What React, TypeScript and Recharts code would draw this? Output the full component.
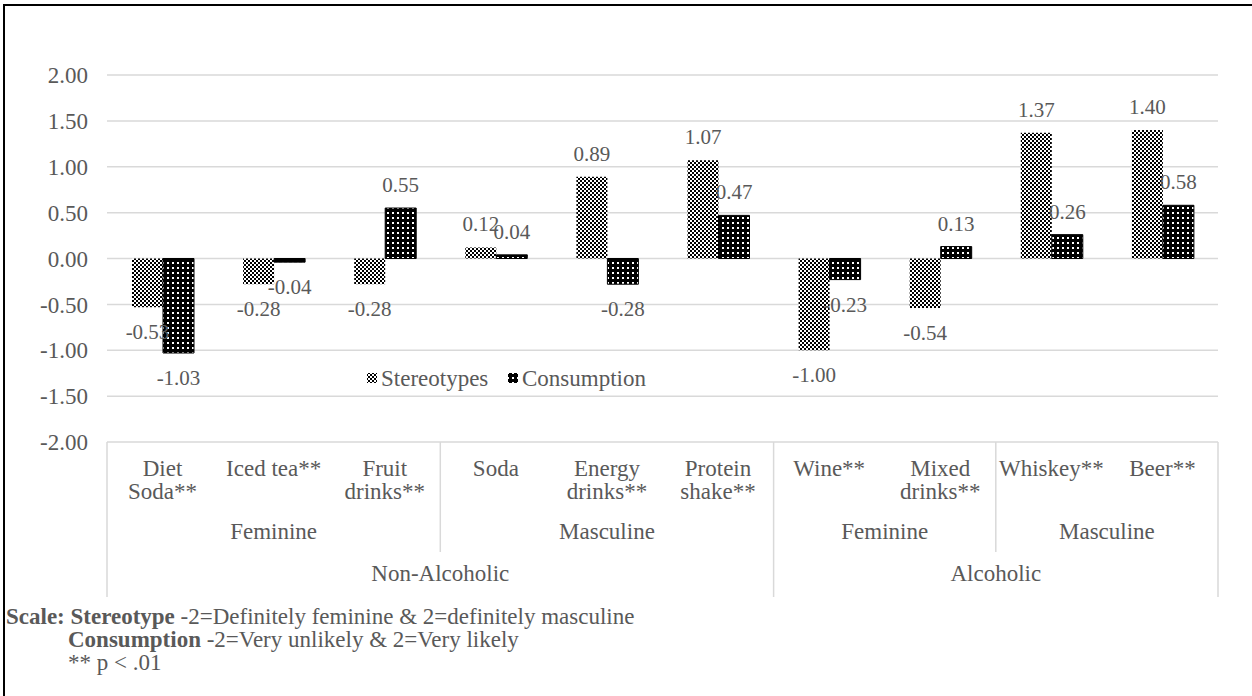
import React from "react";
import { BarChart, Bar, XAxis, YAxis, CartesianGrid, LabelList } from "recharts";

// drink categories (axis level 1), "\n" marks Excel's line wrap
const categories = [
  "Diet\nSoda**",
  "Iced tea**",
  "Fruit\ndrinks**",
  "Soda",
  "Energy\ndrinks**",
  "Protein\nshake**",
  "Wine**",
  "Mixed\ndrinks**",
  "Whiskey**",
  "Beer**",
];

const stereotypes = [-0.53, -0.28, -0.28, 0.12, 0.89, 1.07, -1.0, -0.54, 1.37, 1.4];
const consumption = [-1.03, -0.04, 0.55, 0.04, -0.28, 0.47, -0.23, 0.13, 0.26, 0.58];

// axis level 2 and level 3 groups
const genderGroups = ["Feminine", "Masculine", "Feminine", "Masculine"];
const genderSpans = [3, 3, 2, 2];
const typeGroups = ["Non-Alcoholic", "Alcoholic"];
const typeSpans = [6, 4];

const yTicks = [-2, -1.5, -1, -0.5, 0, 0.5, 1, 1.5, 2];

const data = categories.map((name, i) => ({
  name,
  stereotypes: stereotypes[i],
  consumption: consumption[i],
}));

const W = 1252;
const H = 696;
const PLOT_LEFT = 107;
const PLOT_RIGHT = 1218;
const PLOT_TOP = 75;
const PLOT_BOTTOM = 442;
const X_AXIS_H = 160;
const BAND = (PLOT_RIGHT - PLOT_LEFT) / categories.length;
const FONT = "'Liberation Serif', 'Times New Roman', serif";
const FS = 23;
const TEXT = "#595959";
const GRID = "#d9d9d9";

const starts = (spans: number[]) => {
  const out: number[] = [];
  let acc = 0;
  spans.forEach((s) => {
    out.push(acc);
    acc += s;
  });
  return out;
};
const genderStarts = starts(genderSpans);
const typeStarts = starts(typeSpans);

function CategoryTick(props: any) {
  const { x, index, payload } = props;
  const lines = String(payload.value).split("\n");
  const left = x - BAND / 2;
  const gi = genderStarts.indexOf(index);
  const ti = typeStarts.indexOf(index);
  const last = index === categories.length - 1;
  return (
    <g fontFamily={FONT} fontSize={FS} fill={TEXT}>
      {lines.map((l, k) => (
        <text key={k} x={x} y={PLOT_BOTTOM + 34 + k * 23} textAnchor="middle">
          {l}
        </text>
      ))}
      {gi >= 0 && (
        <>
          <line
            x1={left}
            x2={left}
            y1={PLOT_BOTTOM}
            y2={ti >= 0 ? PLOT_BOTTOM + 155 : PLOT_BOTTOM + 110}
            stroke={GRID}
            strokeWidth={1.5}
          />
          <text x={left + (genderSpans[gi] * BAND) / 2} y={PLOT_BOTTOM + 97} textAnchor="middle">
            {genderGroups[gi]}
          </text>
        </>
      )}
      {ti >= 0 && (
        <text x={left + (typeSpans[ti] * BAND) / 2} y={PLOT_BOTTOM + 139} textAnchor="middle">
          {typeGroups[ti]}
        </text>
      )}
      {last && (
        <line
          x1={x + BAND / 2}
          x2={x + BAND / 2}
          y1={PLOT_BOTTOM}
          y2={PLOT_BOTTOM + 155}
          stroke={GRID}
          strokeWidth={1.5}
        />
      )}
    </g>
  );
}

function ValueLabel(props: any) {
  const { x, y, width, height, value } = props;
  const top = Math.min(y, y + height);
  const bottom = Math.max(y, y + height);
  const cy = value >= 0 ? top - 23 : bottom + 25;
  return (
    <text
      x={x + width / 2}
      y={cy + 7}
      textAnchor="middle"
      fontFamily={FONT}
      fontSize={21}
      fill={TEXT}
    >
      {value.toFixed(2)}
    </text>
  );
}

function Patterns() {
  return (
    <defs>
      <pattern id="checker" width={4} height={4} patternUnits="userSpaceOnUse">
        <rect width={4} height={4} fill="#fff" />
        <rect width={2} height={2} fill="#000" />
        <rect x={2} y={2} width={2} height={2} fill="#000" />
      </pattern>
      <pattern id="dots" width={5} height={5} patternUnits="userSpaceOnUse">
        <rect width={5} height={5} fill="#000" />
        <rect x={2} y={2} width={2} height={2} fill="#fff" />
      </pattern>
    </defs>
  );
}

export default function App() {
  return (
    <div
      style={{
        position: "absolute",
        left: 0,
        top: 0,
        width: W,
        height: H,
        overflow: "hidden",
        background: "#fff",
      }}
    >
      <div
        style={{
          position: "absolute",
          left: 3,
          top: 4,
          width: W + 20,
          height: H + 20,
          border: "2px solid #000",
          boxSizing: "border-box",
        }}
      />
      <BarChart
        width={W}
        height={H}
        data={data}
        barGap={0}
        barSize={31}
        margin={{ top: PLOT_TOP, right: W - PLOT_RIGHT, left: 0, bottom: H - PLOT_BOTTOM - X_AXIS_H }}
      >
        <Patterns />
        <CartesianGrid vertical={false} stroke={GRID} strokeWidth={1.5} />
        <XAxis
          dataKey="name"
          height={X_AXIS_H}
          interval={0}
          axisLine={false}
          tickLine={false}
          tick={<CategoryTick />}
        />
        <YAxis
          width={PLOT_LEFT}
          domain={[-2, 2]}
          ticks={yTicks}
          axisLine={false}
          tickLine={false}
          tickMargin={13}
          tickFormatter={(v: number) => v.toFixed(2)}
          tick={{ fontFamily: FONT, fontSize: FS, fill: TEXT }}
        />
        <Bar dataKey="stereotypes" name="Stereotypes" fill="url(#checker)" isAnimationActive={false}>
          <LabelList dataKey="stereotypes" content={<ValueLabel />} />
        </Bar>
        <Bar
          dataKey="consumption"
          name="Consumption"
          fill="url(#dots)"
          stroke="#000"
          strokeWidth={1}
          isAnimationActive={false}
        >
          <LabelList dataKey="consumption" content={<ValueLabel />} />
        </Bar>
      </BarChart>
      <svg
        width={W}
        height={H}
        style={{ position: "absolute", left: 0, top: 0, pointerEvents: "none" }}
        fontFamily={FONT}
        fontSize={FS}
        fill={TEXT}
      >
        {/* legend */}
        <rect x={367} y={373} width={10} height={10} fill="url(#checker)" />
        <text x={381} y={386}>Stereotypes</text>
        <rect x={508} y={373} width={10} height={10} fill="url(#dots)" />
        <text x={522} y={386}>Consumption</text>
        {/* footnote */}
        <text x={6} y={624}>
          <tspan fontWeight="bold">Scale: Stereotype</tspan>
          {" -2=Definitely feminine & 2=definitely masculine"}
        </text>
        <text x={68} y={647}>
          <tspan fontWeight="bold">Consumption</tspan>
          {" -2=Very unlikely & 2=Very likely"}
        </text>
        <text x={68} y={670}>
          {"** p < .01"}
        </text>
      </svg>
    </div>
  );
}
